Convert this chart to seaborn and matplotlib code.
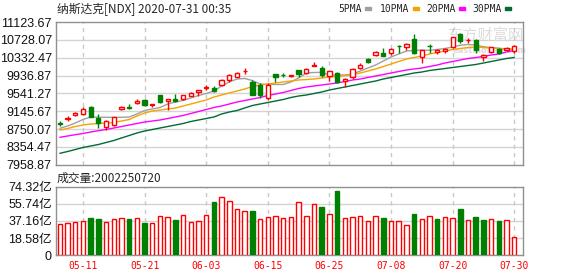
import numpy as np
import pandas as pd
import matplotlib
matplotlib.use('Agg')
import matplotlib.pyplot as plt
from matplotlib.patches import Rectangle
import seaborn as sns

# 交易日 (2020-05-06 ~ 2020-07-30)
dates = ['05-06', '05-07', '05-08',
         '05-11', '05-12', '05-13', '05-14', '05-15',
         '05-18', '05-19', '05-20', '05-21', '05-22',
         '05-26', '05-27', '05-28', '05-29',
         '06-01', '06-02', '06-03', '06-04', '06-05',
         '06-08', '06-09', '06-10', '06-11', '06-12',
         '06-15', '06-16', '06-17', '06-18', '06-19',
         '06-22', '06-23', '06-24', '06-25', '06-26',
         '06-29', '06-30', '07-01', '07-02',
         '07-06', '07-07', '07-08', '07-09', '07-10',
         '07-13', '07-14', '07-15', '07-16', '07-17',
         '07-20', '07-21', '07-22', '07-23', '07-24',
         '07-27', '07-28', '07-29', '07-30']
tick_dates = ['05-11', '05-21', '06-03', '06-15', '06-25', '07-08', '07-20', '07-30']

open_ = [8883.6, 8979.7, 9061.0, 9083.2, 9231.1, 8987.1, 8787.5, 8839.2, 9186.7, 9245.8,
         9319.8, 9393.7, 9275.4, 9497.2, 9364.1, 9408.5, 9408.5, 9489.8, 9571.1, 9667.2,
         9667.2, 9726.4, 9837.3, 9911.2, 10029.5, 9785.5, 9726.4, 9445.5, 9970.4, 9955.6,
         9918.6, 10059.1, 9985.1, 10147.8, 10096.0, 9926.0, 9999.9, 9807.7, 9896.4, 10096.0,
         10295.6, 10391.8, 10443.5, 10443.5, 10598.8, 10576.6, 10746.6, 10354.8, 10598.8, 10458.3,
         10480.5, 10561.8, 10864.9, 10717.0, 10724.4, 10340.0, 10458.3, 10517.4, 10502.6, 10487.9]
high = [8935.3, 9038.8, 9134.9, 9245.8, 9260.6, 9075.8, 8950.1, 9024.0, 9260.6, 9305.0,
        9408.5, 9423.3, 9312.4, 9504.6, 9423.3, 9519.4, 9512.0, 9578.5, 9622.9, 9726.4,
        9704.2, 9866.9, 9970.4, 10022.1, 10103.4, 9837.3, 9763.3, 9763.3, 9977.7, 9999.9,
        9955.6, 10066.5, 10096.0, 10243.9, 10140.4, 10036.9, 10022.1, 9889.0, 10096.0, 10221.7,
        10317.8, 10480.5, 10539.6, 10539.6, 10620.9, 10665.3, 10864.9, 10510.0, 10628.3, 10517.4,
        10554.4, 10798.4, 10872.3, 10776.2, 10739.2, 10421.3, 10576.6, 10554.4, 10576.6, 10606.2]
low = [8817.0, 8935.3, 9038.8, 9061.0, 9016.7, 8765.3, 8728.3, 8817.0, 9171.9, 9201.5,
       9305.0, 9260.6, 9238.4, 9334.6, 9171.9, 9356.7, 9393.7, 9482.4, 9482.4, 9615.5,
       9571.1, 9704.2, 9800.3, 9896.4, 9970.4, 9497.2, 9430.7, 9393.7, 9800.3, 9911.2,
       9911.2, 9911.2, 9970.4, 10147.8, 9896.4, 9807.7, 9763.3, 9682.0, 9866.9, 10073.9,
       10221.7, 10369.6, 10369.6, 10391.8, 10443.5, 10502.6, 10413.9, 10206.9, 10443.5, 10413.9,
       10428.7, 10539.6, 10665.3, 10650.5, 10443.5, 10251.3, 10428.7, 10413.9, 10487.9, 10428.7]
close = [8868.8, 8994.5, 9112.8, 9201.5, 9024.0, 8891.0, 8935.3, 9009.3, 9245.8, 9208.9,
         9378.9, 9282.8, 9305.0, 9349.3, 9415.9, 9378.9, 9497.2, 9549.0, 9615.5, 9682.0,
         9600.7, 9837.3, 9948.2, 9999.9, 10044.3, 9504.6, 9504.6, 9726.4, 9896.4, 9940.8,
         9948.2, 9970.4, 10073.9, 10162.6, 9948.2, 10029.5, 9792.9, 9866.9, 10081.2, 10177.4,
         10236.5, 10465.7, 10377.0, 10517.4, 10584.0, 10643.1, 10428.7, 10502.6, 10584.0, 10495.3,
         10517.4, 10783.6, 10702.3, 10731.8, 10502.6, 10384.4, 10561.8, 10428.7, 10539.6, 10591.4]

ma5 = [8765.9, 8816.9, 8883.5, 8961.1, 9016.5, 9012.0, 9010.0, 9010.0, 9010.0, 9016.5,
       9083.1, 9160.7, 9194.0, 9227.2, 9304.9, 9349.2, 9382.5, 9438.0, 9493.4, 9537.8,
       9593.2, 9704.1, 9792.8, 9859.4, 9870.5, 9826.1, 9748.5, 9737.4, 9737.4, 9737.4,
       9792.8, 9881.6, 9992.5, 10003.5, 10008.0, 9948.1, 9948.1, 9948.1, 9970.3, 10036.8,
       10103.4, 10169.9, 10258.6, 10347.3, 10413.9, 10480.4, 10491.5, 10502.6, 10496.0, 10513.7,
       10535.9, 10569.1, 10609.0, 10624.6, 10613.5, 10575.8, 10558.0, 10542.6, 10524.8, 10518.0]
ma10 = [8728.2, 8761.5, 8805.8, 8839.1, 8861.3, 8872.4, 8883.5, 8894.5, 8927.8, 8961.1,
        9038.7, 9105.3, 9149.6, 9171.8, 9194.0, 9216.2, 9260.5, 9304.9, 9349.2, 9393.6,
        9460.1, 9504.5, 9548.9, 9593.2, 9637.6, 9693.0, 9726.3, 9748.5, 9770.7, 9792.8,
        9815.0, 9837.2, 9848.3, 9859.4, 9881.6, 9903.7, 9914.8, 9937.0, 9959.2, 9992.5,
        10036.8, 10081.2, 10136.6, 10192.1, 10247.5, 10303.0, 10336.2, 10369.5, 10413.9, 10447.1,
        10480.4, 10513.7, 10535.9, 10558.0, 10569.1, 10558.0, 10547.0, 10535.9, 10524.8, 10513.7]
ma20 = [8566.2, 8595.1, 8623.9, 8650.6, 8683.9, 8712.7, 8739.3, 8772.6, 8805.8, 8839.1,
        8872.4, 8905.6, 8927.8, 8950.0, 8983.3, 9016.5, 9049.8, 9094.2, 9138.5, 9182.9,
        9227.2, 9260.5, 9304.9, 9349.2, 9382.5, 9415.8, 9449.1, 9493.4, 9526.7, 9560.0,
        9604.3, 9648.7, 9681.9, 9704.1, 9726.3, 9748.5, 9770.7, 9803.9, 9837.2, 9859.4,
        9892.6, 9925.9, 9959.2, 9992.5, 10025.7, 10059.0, 10081.2, 10103.4, 10136.6, 10169.9,
        10214.3, 10247.5, 10280.8, 10314.1, 10336.2, 10358.4, 10391.7, 10413.9, 10458.2, 10491.5]
ma30 = [8211.4, 8251.3, 8295.7, 8340.0, 8373.3, 8406.6, 8450.9, 8495.3, 8550.8, 8606.2,
        8661.7, 8706.0, 8739.3, 8772.6, 8805.8, 8839.1, 8872.4, 8916.7, 8950.0, 8983.3,
        9016.5, 9083.1, 9127.4, 9160.7, 9216.2, 9271.6, 9304.9, 9338.2, 9371.4, 9404.7,
        9449.1, 9482.3, 9504.5, 9537.8, 9571.0, 9615.4, 9648.7, 9681.9, 9715.2, 9748.5,
        9781.8, 9815.0, 9859.4, 9892.6, 9925.9, 9959.2, 9992.5, 10014.6, 10047.9, 10070.1,
        10092.3, 10114.4, 10136.6, 10158.8, 10181.0, 10214.3, 10247.5, 10280.8, 10314.1, 10336.2]

# 成交量 (亿)
volume = [33.7, 34.8, 35.9, 37.0, 40.2, 39.2, 35.9, 38.8, 39.9, 39.2,
          39.9, 35.2, 34.8, 42.4, 41.3, 38.1, 43.5, 35.9, 37.0, 43.5,
          57.6, 62.7, 58.6, 49.7, 47.7, 47.9, 38.9, 41.0, 42.1, 39.9,
          41.0, 57.3, 42.1, 55.1, 52.2, 44.3, 69.6, 40.0, 41.1, 42.2,
          36.7, 42.2, 40.0, 36.8, 36.8, 32.5, 44.7, 39.0, 42.2, 39.0,
          41.1, 40.0, 50.2, 37.9, 41.5, 38.2, 39.0, 37.2, 37.9, 19.5]
vol_down = [4, 5, 9, 11, 15, 20, 25, 34, 36, 42, 46, 49, 52, 54, 55, 57]

ma_names = ['5PMA', '10PMA', '20PMA', '30PMA']
ma_colors = ['#a0a0a0', '#f5a300', '#ff00ff', '#006b35']

price_ticks = [7958.87, 8354.47, 8750.07, 9145.67, 9541.27, 9936.87, 10332.47, 10728.07, 11123.67]
vol_ticks = [0, 18.58, 37.16, 55.74, 74.32]
vol_labels = ['0', '18.58亿', '37.16亿', '55.74亿', '74.32亿']

RED = '#ff0000'
GREEN = '#008000'
GRID = '#d4d4d4'
FRAME = '#909090'

sns.set_style('white')
plt.rcParams['font.family'] = ['Liberation Sans', 'Noto Sans CJK SC', 'DejaVu Sans']

W, H = 578, 276
fig = plt.figure(figsize=(W / 100, H / 100), dpi=100)
ax = fig.add_axes([56 / W, 1 - 164.7 / H, 466.7 / W, 142.7 / H])
axv = fig.add_axes([56 / W, 1 - 255.3 / H, 466.7 / W, 68.6 / H])

x = np.arange(len(dates))
o = np.array(open_)
c = np.array(close)
up = c >= o
cols = np.where(up, RED, GREEN)
tick_pos = [dates.index(d) for d in tick_dates]

# 均线
ma_df = pd.DataFrame({
    'idx': np.tile(x, 4),
    'value': np.concatenate([ma5, ma10, ma20, ma30]),
    'ma': np.repeat(ma_names, len(x)),
})
sns.lineplot(data=ma_df, x='idx', y='value', hue='ma', hue_order=ma_names,
             palette=ma_colors, linewidth=1, legend=False, ax=ax, zorder=2)

# K线
ax.vlines(x, low, high, colors=cols, linewidth=1, zorder=3)
body_h = np.maximum(np.abs(c - o), 8)
body_mid = (c + o) / 2
ax.bar(x, body_h, bottom=body_mid - body_h / 2, width=0.55,
       color=np.where(up, 'white', GREEN), edgecolor=cols, linewidth=1, zorder=4)

# 成交量
vdown = np.isin(x, vol_down)
axv.bar(x, volume, width=0.58, color=np.where(vdown, GREEN, 'white'),
        edgecolor=np.where(vdown, GREEN, RED), linewidth=1, zorder=3)

for a in (ax, axv):
    a.set_xlim(-0.5, 60.1)
    a.set_xlabel('')
    a.set_ylabel('')
    for s in a.spines.values():
        s.set_visible(True)
        s.set_color(FRAME)
        s.set_linewidth(1)
    for p in tick_pos:
        a.axvline(p, color='#c8c8c8', linewidth=1, linestyle=(0, (3, 3)), zorder=1)
    a.tick_params(axis='both', length=0)

ax.set_ylim(price_ticks[0], price_ticks[-1])
ax.set_yticks(price_ticks)
ax.set_yticklabels(['%.2f' % t for t in price_ticks], fontsize=9, color='#111111')
ax.tick_params(axis='y', pad=3)
ax.set_xticks([])
for t in price_ticks[1:-1]:
    ax.axhline(t, color=GRID, linewidth=1, zorder=0)

axv.set_ylim(0, 74.32)
axv.set_yticks(vol_ticks)
axv.set_yticklabels(vol_labels, fontsize=9, color='#111111')
axv.tick_params(axis='y', pad=3)
for t in vol_ticks[1:-1]:
    axv.axhline(t, color=GRID, linewidth=1, zorder=0)
axv.set_xticks(tick_pos)
axv.set_xticklabels(tick_dates, fontsize=7, color=RED, family='DejaVu Sans Mono')
axv.tick_params(axis='x', pad=4)

# 水印
ax.text(0.84, 0.905, '东方财富网', transform=ax.transAxes, fontsize=11,
        color='#dcdcdc', family='Noto Sans CJK SC', va='center', zorder=0.5)
ax.text(0.85, 0.8, 'eastmoney.com', transform=ax.transAxes, fontsize=6,
        color='#dcdcdc', weight='bold', family='DejaVu Sans', va='center', zorder=0.5)

# 标题
fig.text(57 / W, 1 - 9 / H, '纳斯达克[NDX] 2020-07-31 00:35', fontsize=8.5,
         family=['Noto Sans CJK SC', 'DejaVu Sans'], va='center', ha='left')
fig.text(57 / W, 1 - 178 / H, '成交量:2002250720', fontsize=8.5,
         family=['Noto Sans CJK SC', 'DejaVu Sans'], va='center', ha='left')

# 图例
legend_x = [338, 380, 426, 472]
for name, col, lx in zip(ma_names, ma_colors, legend_x):
    t = fig.text(lx / W, 1 - 8.5 / H, name, fontsize=7, family='DejaVu Sans Mono',
                 va='center', ha='left')
    wpx = {'5PMA': 24, '10PMA': 30, '20PMA': 30, '30PMA': 30}[name]
    fig.patches.append(Rectangle(((lx + wpx + 3) / W, 1 - 10 / H), 6 / W, 3 / H,
                                 transform=fig.transFigure, color=col))

fig.savefig('out.png', dpi=100)
